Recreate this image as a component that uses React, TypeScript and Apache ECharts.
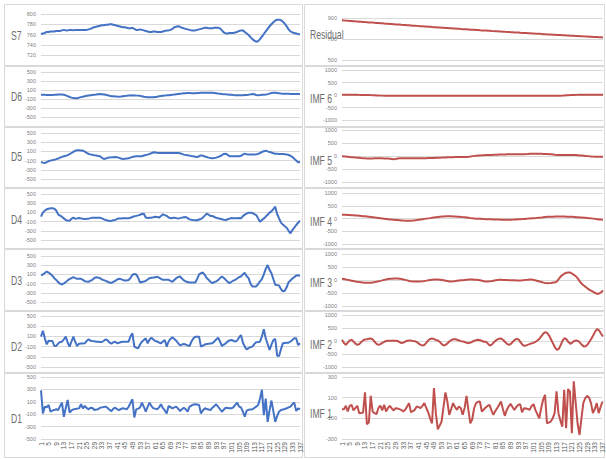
import React, { useEffect, useRef } from "react";
import * as echarts from "echarts";

const categories = Array.from({ length: 137 }, (_, i) => String(i + 1));

const s7 = [
  761, 762, 763, 765, 765, 766, 766, 766, 767, 767,
  767, 768, 769, 768, 768, 769, 769, 768, 769, 769,
  769, 769, 769, 769, 769, 770, 771, 773, 774, 775,
  776, 777, 778, 778, 779, 779, 780, 780, 779, 778,
  777, 776, 775, 774, 774, 773, 772, 772, 773, 771,
  769, 769, 770, 769, 768, 767, 766, 765, 765, 766,
  766, 765, 765, 765, 766, 767, 768, 768, 769, 771,
  774, 775, 776, 775, 773, 772, 771, 770, 769, 768,
  768, 768, 769, 770, 771, 772, 773, 773, 772, 772,
  772, 773, 773, 773, 772, 768, 764, 762, 762, 763,
  763, 763, 764, 765, 767, 768, 768, 765, 762, 759,
  755, 751, 748, 746, 747, 751, 756, 761, 766, 771,
  776, 780, 784, 787, 789, 789, 788, 785, 781, 776,
  770, 766, 764, 763, 762, 761, 760,
];
const d6 = [
  -5, -6, -8, -9, -10, -10, -10, -8, -4, 0,
  2, 0, -5, -20, -35, -55, -70, -80, -85, -82,
  -70, -58, -48, -38, -30, -22, -15, -10, -6, -2,
  5, 10, 8, 2, -5, -15, -28, -38, -40, -44,
  -47, -48, -45, -40, -35, -30, -24, -20, -18, -20,
  -23, -25, -30, -40, -50, -55, -60, -63, -63, -62,
  -55, -48, -40, -33, -26, -20, -18, -14, -10, -6,
  -2, 5, 12, 18, 22, 27, 30, 33, 32, 28,
  26, 28, 32, 36, 40, 41, 40, 40, 40, 40,
  38, 34, 28, 22, 18, 12, 8, 3, 0, -4,
  -8, -12, -15, -17, -18, -18, -16, -13, -10, -5,
  3, 10, 5, -10, -18, -12, -5, -3, 2, 8,
  20, 32, 40, 38, 33, 28, 22, 18, 16, 15,
  14, 13, 12, 12, 11, 10, 10,
];
const d5 = [
  -130, -145, -150, -135, -110, -100, -90, -80, -68, -55,
  -35, -20, -5, 5, 20, 40, 65, 90, 115, 125,
  125, 122, 115, 95, 70, 45, 35, 28, 18, 10,
  0, -5, -40, -65, -55, -40, -30, -28, -25, -22,
  -25, -40, -55, -65, -62, -55, -50, -35, -20, -12,
  -8, -7, -7, -5, 10, 20, 30, 45, 60, 80,
  78, 70, 65, 65, 65, 65, 65, 65, 65, 65,
  65, 65, 65, 60, 45, 30, 22, 15, 8, 0,
  -5, -15, -22, -5, 14, 5, -10, -22, -35, -45,
  -50, -45, -35, -20, -7, 20, 45, 51, 25, -7,
  -7, -7, -7, -7, -7, 5, 30, 51, 40, 30,
  30, 32, 35, 36, 45, 65, 87, 105, 116, 100,
  87, 75, 60, 51, 48, 45, 44, 43, 40, 35,
  22, 5, -20, -58, -100, -138, -130,
];
const d4 = [
  7, 94, 140, 167, 180, 188, 188, 181, 140, 58,
  30, 7, -30, -65, -75, -80, -40, -14, -36, -30,
  -22, -30, -40, -43, -40, -36, -25, -14, -14, -14,
  -14, -14, -30, -51, -65, -75, -87, -80, -70, -65,
  -40, -35, -30, -29, -29, -29, -29, -15, 0, 15,
  25, 36, 50, 65, 72, -10, -22, -18, -14, -5,
  5, 0, -14, 20, 58, 40, 29, -10, -29, -20,
  -14, -25, -36, -25, -14, -5, 0, -25, -51, -62,
  -68, -72, -70, -55, -43, -10, 30, 72, 50, 22,
  22, 0, -15, -29, -38, -50, -60, -65, -50, -35,
  -22, -25, -29, -29, -20, -29, 20, 51, 75, 94,
  94, 85, 65, 43, -30, -101, -65, -30, 7, 50,
  95, 123, 170, 225, 65, -30, -123, -165, -200, -232,
  -300, -355, -283, -230, -174, -125, -80,
];
const d3 = [
  83, 97, 130, 162, 140, 110, 70, 18, -20, -68,
  -100, -119, -95, -68, -30, 0, 18, 40, 20, 4,
  4, 4, -20, -47, -55, -61, -35, -18, 20, 40,
  30, 18, -10, -25, -40, -60, -80, -83, -60, -40,
  -10, 4, -4, -20, -32, -32, -20, 20, 90, 110,
  97, 30, -76, -65, -55, -40, -10, 18, 25, 32,
  40, 47, 30, 5, -18, -18, -18, -18, -40, -61,
  -20, 18, 40, 54, 10, -30, -54, -65, -76, -76,
  -76, -76, 0, 100, 126, 140, 90, 20, -18, -60,
  -90, -70, -50, -25, 20, 54, 20, -18, -60, -90,
  -60, -35, -18, 10, 40, 54, 100, 133, 60, 18,
  -100, -162, -165, -162, -110, -50, -4, 100, 220, 303,
  200, 126, 0, -126, -133, -140, -220, -270, -255, -180,
  -70, -32, 10, 40, 75, 80, 68,
];
const d2 = [
  95, 212, 62, -56, 16, 12, 10, -88, -85, -40,
  -10, -3, 40, 95, -20, -101, 0, 95, -10, -88,
  -42, -40, -38, -36, 10, 42, 16, 10, 5, -3,
  -5, -8, -10, 15, 42, 20, -20, -42, -15, -3,
  -36, -25, -10, -3, -3, -3, -3, 100, 160, -101,
  -120, -134, -60, -3, 30, 62, -36, 40, 75, 40,
  10, 0, -20, -36, 0, 29, -101, 0, 50, 82,
  50, 16, -30, -75, -60, -49, -60, -75, -88, 0,
  60, 95, 95, 95, -101, -80, -60, -49, -45, -40,
  -36, 0, 40, 75, 0, -88, -60, -36, 0, 20,
  29, 15, -3, 20, 80, 127, -20, -100, -153, -130,
  -110, -101, -50, -16, -10, -3, 100, 239, 62, -50,
  -167, -60, 29, 49, -278, -284, -150, -36, -30, -25,
  -23, 0, 30, 62, 62, -69, -36,
];
const d1 = [
  283, -87, 22, 10, 49, -60, -40, -33, -20, -33,
  30, 87, -141, 0, 130, -76, -40, -22, -15, -10,
  -5, 60, -5, 33, 0, -22, 5, 0, -33, -25,
  -22, 5, 10, 15, 22, 0, -30, -49, -10, 5,
  -20, -33, -15, -5, -10, -22, 20, 80, 141, -152,
  -22, -10, 5, 87, 20, -60, 20, 87, 30, -5,
  -10, -22, 10, 60, 0, -40, -87, 33, 15, -5,
  10, 22, -10, -49, -20, 5, -20, -60, 22, 40,
  55, 60, 55, 49, -87, -40, -5, -15, -25, -33,
  5, 30, 60, 20, -20, -60, -25, 5, 0, -5,
  -5, 10, 50, 87, 22, 10, -60, -141, -43, -30,
  -25, -22, 0, 22, 50, 150, 293, -114, 152, -223,
  -40, 120, -50, -223, -130, -60, -33, -25, -16, -5,
  10, 22, 60, 87, -49, -5, -22,
];

const residual = [
  878, 877, 875, 874, 872, 871, 870, 868, 867, 865,
  864, 863, 861, 860, 858, 857, 856, 854, 853, 852,
  850, 849, 847, 846, 845, 843, 842, 841, 839, 838,
  837, 835, 834, 833, 831, 830, 829, 827, 826, 825,
  823, 822, 821, 819, 818, 817, 816, 814, 813, 812,
  810, 809, 808, 807, 805, 804, 803, 802, 800, 799,
  798, 797, 795, 794, 793, 792, 791, 789, 788, 787,
  786, 785, 783, 782, 781, 780, 779, 778, 776, 775,
  774, 773, 772, 771, 770, 768, 767, 766, 765, 764,
  763, 762, 761, 759, 758, 757, 756, 755, 754, 753,
  752, 751, 750, 749, 748, 746, 745, 744, 743, 742,
  741, 740, 739, 738, 737, 736, 735, 734, 733, 732,
  731, 730, 729, 728, 727, 726, 725, 724, 723, 722,
  721, 720, 719, 718, 717, 716, 715,
];
const imf6 = [
  8, 8, 8, 8, 7, 7, 7, 6, 6, 5,
  4, 3, 2, 0, -2, -5, -8, -12, -16, -20,
  -23, -25, -27, -28, -29, -30, -30, -30, -30, -30,
  -30, -30, -30, -30, -30, -30, -30, -30, -30, -30,
  -30, -30, -30, -30, -30, -30, -30, -30, -30, -30,
  -31, -31, -31, -31, -31, -31, -31, -31, -31, -31,
  -31, -31, -31, -31, -31, -31, -31, -31, -31, -31,
  -31, -31, -31, -31, -31, -31, -31, -31, -31, -31,
  -30, -30, -30, -30, -30, -30, -30, -30, -30, -30,
  -30, -30, -30, -30, -30, -30, -30, -30, -30, -30,
  -30, -30, -30, -30, -30, -30, -30, -30, -30, -30,
  -30, -30, -29, -28, -26, -23, -19, -14, -9, -4,
  0, 3, 5, 6, 7, 8, 8, 8, 8, 8,
  8, 8, 8, 8, 8, 8, 8,
];
const imf5 = [
  -13, -16, -22, -30, -38, -45, -52, -58, -64, -70,
  -78, -85, -90, -92, -93, -93, -92, -91, -90, -90,
  -90, -90, -92, -95, -100, -108, -118, -128, -115, -100,
  -90, -90, -90, -90, -90, -90, -90, -90, -90, -90,
  -89, -88, -86, -85, -83, -81, -79, -77, -74, -71,
  -68, -65, -62, -58, -55, -51, -49, -47, -45, -43,
  -42, -41, -40, -39, -38, -35, -28, -18, -5, 5,
  13, 18, 23, 27, 31, 34, 36, 38, 41, 44,
  47, 50, 53, 56, 59, 62, 64, 64, 64, 64,
  64, 64, 64, 64, 64, 66, 72, 78, 84, 88,
  90, 90, 89, 87, 84, 81, 78, 75, 70, 65,
  58, 50, 43, 38, 37, 37, 37, 38, 38, 38,
  38, 37, 34, 28, 22, 16, 10, 3, -5, -13,
  -20, -24, -26, -26, -26, -26, -26,
];
const imf4 = [
  150, 148, 145, 141, 137, 132, 127, 121, 115, 108,
  100, 92, 84, 75, 66, 57, 48, 39, 30, 21,
  12, 3, -6, -15, -25, -35, -43, -50, -57, -63,
  -69, -75, -80, -84, -87, -88, -85, -78, -68, -57,
  -45, -35, -25, -15, -5, 5, 15, 26, 37, 48,
  58, 68, 76, 82, 86, 87, 87, 85, 81, 77,
  72, 67, 62, 54, 45, 35, 25, 15, 5, 0,
  -5, -10, -14, -18, -22, -25, -28, -31, -34, -37,
  -40, -42, -44, -46, -48, -50, -50, -49, -47, -44,
  -40, -37, -32, -27, -22, -16, -10, -4, 3, 9,
  12, 18, 25, 33, 42, 52, 60, 64, 67, 70,
  72, 74, 75, 75, 75, 75, 74, 73, 71, 68,
  64, 58, 50, 45, 40, 35, 30, 25, 18, 12,
  5, -5, -15, -25, -35, -43, -50,
];
const imf3 = [
  45, 35, 20, 5, -10, -25, -40, -55, -68, -80,
  -90, -100, -106, -110, -108, -102, -92, -80, -66, -50,
  -33, -15, 5, 22, 35, 45, 52, 56, 58, 56,
  48, 38, 22, 5, -15, -35, -48, -55, -58, -59,
  -58, -53, -45, -35, -24, -12, -2, 8, 15, 19,
  17, 10, 0, -12, -25, -40, -55, -58, -52, -42,
  -30, -20, -12, -5, 2, 9, 15, 19, 16, 10,
  6, 0, -12, -28, -45, -58, -55, -48, -38, -25,
  -12, -2, 5, 6, 4, 2, 0, -5, -8, -10,
  -12, -15, -20, -18, -12, -4, 5, 14, 19, 15,
  0, -20, -40, -60, -80, -100, -118, -123, -120, -112,
  -100, -97, -50, 40, 140, 200, 250, 280, 290, 285,
  240, 190, 135, 40, -60, -150, -213, -270, -330, -380,
  -419, -460, -500, -535, -520, -470, -406,
];
const imf2 = [
  45, -80, -146, -60, 20, 45, -20, -100, -146, -120,
  -40, 20, 60, 70, 85, 96, 60, -30, -110, -146,
  -120, -70, -30, 0, 6, 10, 10, 8, 6, 0,
  -40, -83, -60, -20, 10, 19, 15, 0, -6, -40,
  -100, -150, -172, -150, -60, 30, 80, 96, 70, 40,
  19, -40, -120, -172, -150, -90, -10, 40, 65, 70,
  50, 20, -5, -19, -40, -70, -83, -60, -20, 10,
  35, 45, 30, 0, -30, -32, -100, -172, -140, -60,
  10, 60, 90, 96, 40, -40, -110, -146, -110, -30,
  40, 83, 60, -40, -140, -185, -170, -140, -110, -90,
  -60, -20, 30, 100, 200, 290, 338, 300, 200, 50,
  -100, -250, -338, -300, -150, 20, 108, 60, -40, -108,
  -60, 0, 19, 0, -60, -150, -210, -200, -130, -20,
  100, 230, 370, 465, 400, 280, 172,
];
const imf1 = [
  -11, -11, 21, -34, 20, 31, -24, 0, 21, -50,
  -48, -44, 151, -157, -141, 118, -34, -50, -60, 0,
  24, -24, 31, -34, 0, 21, -5, -24, -2, -5,
  -11, -20, -34, -18, 15, 47, -41, -30, -18, 15,
  8, -2, 20, 47, 0, -41, -100, -148, 193, -50,
  -206, -170, -131, 10, 151, 63, -66, -10, 47, 10,
  -18, 15, 0, -66, 0, 118, -20, -148, -109, 0,
  47, 60, 63, -34, -15, 5, 20, 31, -20, -66,
  -30, -2, 30, 63, -10, -76, -20, 15, 40, 10,
  -18, 10, 30, 37, -41, -2, -5, -10, -18, 20,
  37, -20, -60, -99, 0, 80, 128, -148, -140, -131,
  -100, -50, 161, -50, -120, -180, 177, -196, 183, 161,
  -245, 258, 50, -150, -261, -100, 50, 96, 118, 100,
  47, -50, -10, 47, -50, 10, 63,
];

const BLUE = "#4472C4";
const RED = "#C0504D";
const GRID_LINE = "#d9d9d9";
const LABEL = "#6e6e6e";

const leftPanels = [
  { name: "S7", data: s7, min: 720, max: 800, interval: 20, top: 14, height: 41, ly: 35.5, pt: 4, pb: 65 },
  { name: "D6", data: d6, min: -500, max: 500, interval: 200, top: 72, height: 45, ly: 96.5, pt: 66, pb: 126 },
  { name: "D5", data: d5, min: -500, max: 500, interval: 200, top: 133, height: 46, ly: 157, pt: 127, pb: 187 },
  { name: "D4", data: d4, min: -500, max: 500, interval: 200, top: 194, height: 46, ly: 219.5, pt: 188, pb: 248 },
  { name: "D3", data: d3, min: -500, max: 500, interval: 200, top: 256, height: 46, ly: 280.5, pt: 249, pb: 310 },
  { name: "D2", data: d2, min: -500, max: 500, interval: 200, top: 316, height: 51, ly: 347, pt: 311, pb: 372 },
  { name: "D1", data: d1, min: -500, max: 500, interval: 200, top: 377, height: 62, ly: 419, pt: 373, pb: 457 },
];
const rightPanels = [
  { name: "Residual", data: residual, min: 500, max: 900, interval: 200, top: 18, height: 42, ly: 35, pt: 4, pb: 65 },
  { name: "IMF 6", data: imf6, min: -1000, max: 1000, interval: 500, top: 70, height: 50, ly: 99, pt: 66, pb: 126 },
  { name: "IMF 5", data: imf5, min: -1000, max: 1000, interval: 500, top: 130, height: 52, ly: 160.5, pt: 127, pb: 187 },
  { name: "IMF 4", data: imf4, min: -1000, max: 1000, interval: 500, top: 193, height: 51, ly: 222, pt: 188, pb: 248 },
  { name: "IMF 3", data: imf3, min: -1000, max: 1000, interval: 500, top: 254, height: 52, ly: 283, pt: 249, pb: 310 },
  { name: "IMF 2", data: imf2, min: -1000, max: 1000, interval: 500, top: 315, height: 52, ly: 345, pt: 311, pb: 372 },
  { name: "IMF 1", data: imf1, min: -300, max: 300, interval: 200, top: 377, height: 62, ly: 413.5, pt: 373, pb: 457 },
];

export default function App() {
  const ref = useRef<HTMLDivElement>(null);
  useEffect(() => {
    document.body.style.margin = "0";
    if (!ref.current) return;
    const chart = echarts.init(ref.current, null, { renderer: "svg" });
    const grids: any[] = [];
    const xAxes: any[] = [];
    const yAxes: any[] = [];
    const series: any[] = [];
    const graphic: any[] = [];
    const cols = [
      { panels: leftPanels, left: 41, width: 259, color: BLUE, px: 4.5, pw: 298, lx: 11 },
      { panels: rightPanels, left: 342, width: 261, color: RED, px: 304.5, pw: 300, lx: 310 },
    ];
    cols.forEach((col) => {
      col.panels.forEach((p, idx) => {
        const gi = grids.length;
        const isBottom = idx === col.panels.length - 1;
        grids.push({ left: col.left, top: p.top, width: col.width, height: p.height });
        xAxes.push({
          type: "category",
          gridIndex: gi,
          data: categories,
          boundaryGap: false,
          axisLine: { show: false },
          axisTick: { show: false },
          splitLine: { show: false },
          axisLabel: {
            show: isBottom,
            interval: 3,
            rotate: 90,
            fontSize: 6.5,
            color: "#595959",
            margin: 3,
            fontFamily: "Liberation Sans",
          },
        });
        yAxes.push({
          type: "value",
          gridIndex: gi,
          min: p.min,
          max: p.max,
          interval: p.interval,
          axisLine: { show: false },
          axisTick: { show: false },
          splitLine: { show: true, lineStyle: { color: GRID_LINE, width: 1 } },
          axisLabel: {
            fontSize: 5.5,
            color: "#7f7f7f",
            margin: 5,
            fontFamily: "Liberation Sans",
            formatter: (v: number) => String(v),
          },
        });
        series.push({
          type: "line",
          xAxisIndex: gi,
          yAxisIndex: gi,
          data: p.data,
          showSymbol: false,
          symbol: "none",
          lineStyle: { color: col.color, width: 2 },
          itemStyle: { color: col.color },
        });
        graphic.push({
          type: "rect",
          silent: true,
          shape: { x: col.px, y: p.pt + 0.5, width: col.pw, height: p.pb - p.pt },
          style: { fill: "none", stroke: GRID_LINE, lineWidth: 1 },
        });
        graphic.push({
          type: "text",
          silent: true,
          x: col.lx,
          y: p.ly,
          scaleX: 0.72,
          style: {
            text: p.name,
            fill: LABEL,
            font: "12px 'Liberation Sans', sans-serif",
            textAlign: "left",
            textVerticalAlign: "middle",
          },
          z: 100,
        });
      });
    });
    chart.setOption({
      animation: false,
      backgroundColor: "#ffffff",
      grid: grids,
      xAxis: xAxes,
      yAxis: yAxes,
      series,
      graphic,
    });
    return () => chart.dispose();
  }, []);
  return <div ref={ref} style={{ width: 606, height: 459 }} />;
}
